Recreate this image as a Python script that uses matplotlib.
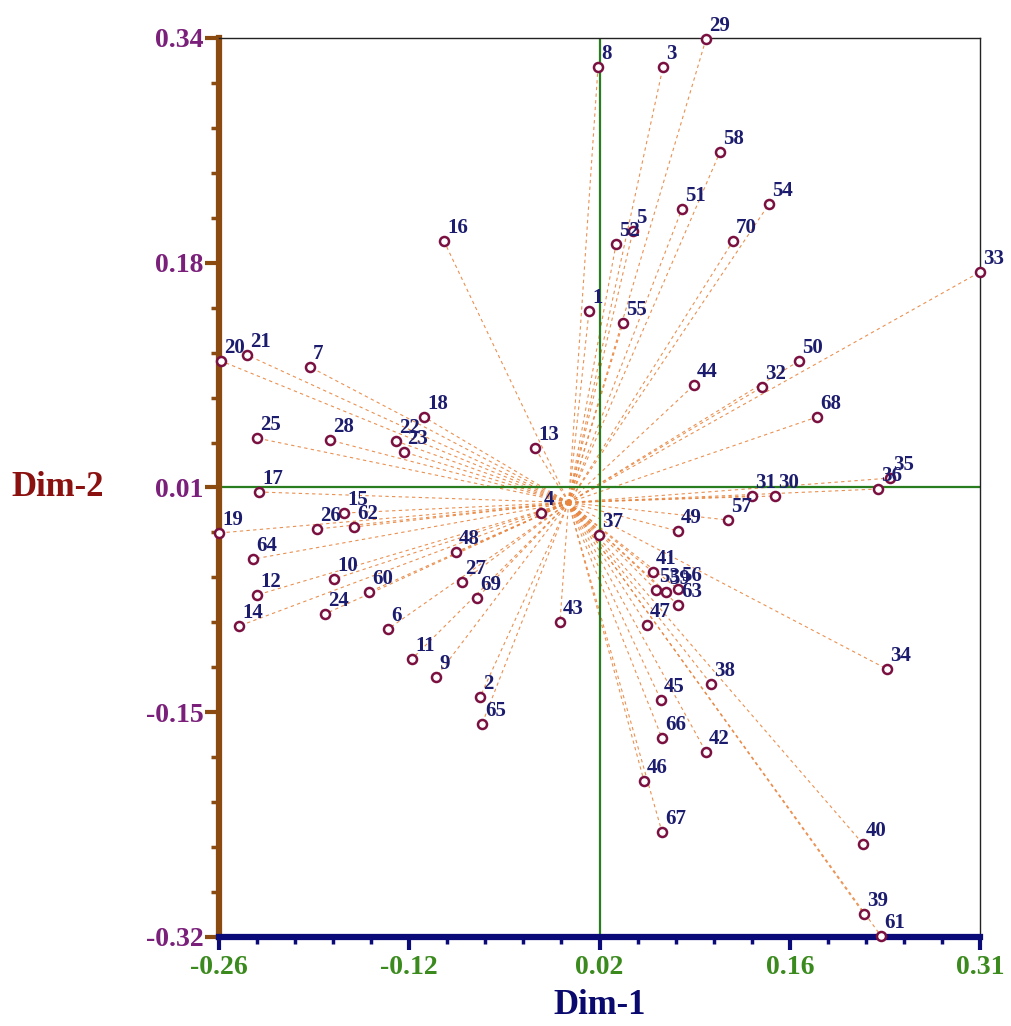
import matplotlib
matplotlib.use("Agg")
import matplotlib.pyplot as plt
import numpy as np

# ---------------- data ----------------
labels = [str(i) for i in range(1, 71)]
dim1 = [0.0152, -0.0659, 0.0702, -0.0205, 0.0479, -0.1343, -0.1923, 0.0219, -0.0986, -0.1745,
        -0.1165, -0.2318, -0.0250, -0.2451, -0.1670, -0.0927, -0.2303, -0.1075, -0.2600, -0.2585,
        -0.2392, -0.1284, -0.1224, -0.1812, -0.2318, -0.1871, -0.0793, -0.1775, 0.1022, 0.1535,
        0.1364, 0.1438, 0.3060, 0.2368, 0.2390, 0.2301, 0.0226, 0.1059, 0.2197, 0.2190,
        0.0628, 0.1022, -0.0064, 0.0933, 0.0687, 0.0561, 0.0583, -0.0837, 0.0814, 0.1714,
        0.0843, 0.0353, 0.0650, 0.1491, 0.0405, 0.0814, 0.1186, 0.1126, 0.0724, -0.1485,
        0.2324, -0.1596, 0.0814, -0.2347, -0.0644, 0.0695, 0.0695, 0.1848, -0.0681, 0.1223]
dim2 = [0.1402, -0.1424, 0.3187, -0.0077, 0.1987, -0.0926, 0.0992, 0.3187, -0.1277, -0.0560,
        -0.1145, -0.0677, 0.0399, -0.0904, -0.0077, 0.1914, 0.0077, 0.0626, -0.0223, 0.1036,
        0.1080, 0.0450, 0.0370, -0.0816, 0.0472, -0.0194, -0.0582, 0.0457, 0.3392, 0.0048,
        0.0048, 0.0845, 0.1687, -0.1219, 0.0179, 0.0099, -0.0238, -0.1328, -0.3012, -0.2499,
        -0.0509, -0.1826, -0.0875, 0.0860, -0.1446, -0.2038, -0.0897, -0.0362, -0.0209, 0.1036,
        0.2148, 0.1892, -0.0640, 0.2185, 0.1314, -0.0633, -0.0128, 0.2565, -0.0655, -0.0655,
        -0.3173, -0.0179, -0.0750, -0.0414, -0.1621, -0.1724, -0.2412, 0.0626, -0.0699, 0.1914]

x_ticklabels = ["-0.26", "-0.12", "0.02", "0.16", "0.31"]
y_ticklabels = ["0.34", "0.18", "0.01", "-0.15", "-0.32"]
xlim = (-0.26, 0.306)
ylim = (-0.318, 0.34)

# ---------------- style ----------------
plt.rcParams['font.family'] = ['Liberation Serif', 'DejaVu Serif']
plt.rcParams['font.weight'] = 'bold'

fig = plt.figure(figsize=(10.11, 10.26), dpi=100)
ax = fig.add_axes([219 / 1011, (1026 - 937) / 1026, 761 / 1011, 899 / 1026])
ax.set_xlim(*xlim)
ax.set_ylim(*ylim)

# green cross at the middle of the ranges
ax.axvline((xlim[0] + xlim[1]) / 2, color="#2a7d1e", lw=1.6, zorder=2)
ax.axhline((ylim[0] + ylim[1]) / 2, color="#2a7d1e", lw=1.6, zorder=2)

# dashed rays from origin
for x, y in zip(dim1, dim2):
    ax.plot([0, x], [0, y], color="#e8853f", lw=0.8, ls=(0, (3, 3)), alpha=0.9,
            zorder=1, clip_on=False)

ax.plot(dim1, dim2, ls='none', marker='o', ms=6.5, mfc='white', mec='#7a1040', mew=1.8,
        zorder=4, clip_on=False)

for lab, x, y in zip(labels, dim1, dim2):
    ax.annotate(lab, (x, y), xytext=(3, 8), textcoords='offset pixels', ha='left', va='baseline',
                fontsize=15, fontweight='bold', color='#1c1c6e', zorder=5, annotation_clip=False)

# ticks
xt = np.linspace(xlim[0], xlim[1], 5)
yt = np.linspace(ylim[1], ylim[0], 5)
ax.set_xticks(xt)
ax.set_xticklabels(x_ticklabels)
ax.set_yticks(yt)
ax.set_yticklabels(y_ticklabels)
ax.set_xticks(np.linspace(xlim[0], xlim[1], 21), minor=True)
ax.set_yticks(np.linspace(ylim[0], ylim[1], 21), minor=True)

ax.tick_params(axis='x', which='major', direction='out', length=9, width=3, color='#0a0a78',
               labelcolor='#3a8a1e', labelsize=20, pad=4)
ax.tick_params(axis='x', which='minor', direction='out', length=5, width=2.5, color='#0a0a78')
ax.tick_params(axis='y', which='major', direction='out', length=10, width=3, color='#8b4a10',
               labelcolor='#7a1f7a', labelsize=20, pad=1)
ax.tick_params(axis='y', which='minor', direction='out', length=6, width=2.5, color='#8b4a10')
for t in ax.get_xticklabels() + ax.get_yticklabels():
    t.set_fontweight('bold')

ax.spines['left'].set_color('#8b4a10')
ax.spines['left'].set_linewidth(4.5)
ax.spines['bottom'].set_color('#0a0a78')
ax.spines['bottom'].set_linewidth(4.5)
ax.spines['top'].set_color('#222222')
ax.spines['top'].set_linewidth(1)
ax.spines['right'].set_color('#222222')
ax.spines['right'].set_linewidth(1)

ax.set_xlabel("Dim-1", fontsize=25, fontweight='bold', color='#0a0a6e')
ax.xaxis.set_label_coords(0.5, -0.076)
ax.xaxis.label.set_va('center')
ax.set_ylabel("Dim-2", fontsize=25, fontweight='bold', color='#8b1010', rotation=0)
ax.yaxis.set_label_coords(-0.212, 0.5)
ax.yaxis.label.set_va('center')
ax.yaxis.label.set_ha('center')

fig.savefig("out.png", dpi=100)
